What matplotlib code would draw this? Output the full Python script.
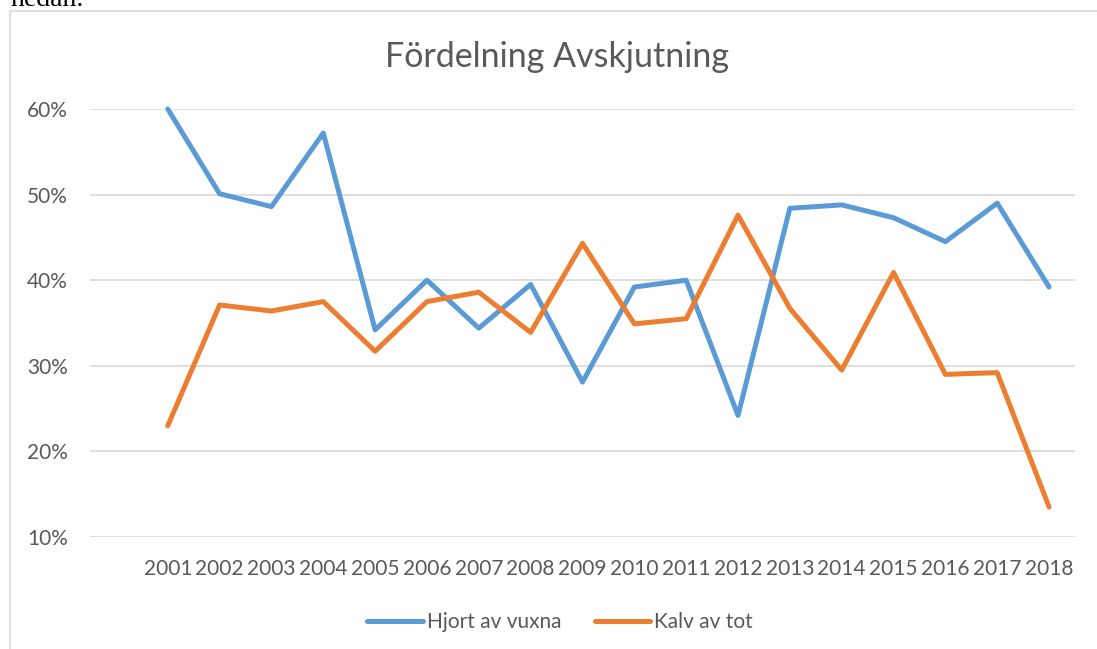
import matplotlib.pyplot as plt
from matplotlib.patches import Rectangle
from matplotlib.ticker import FuncFormatter

# data (share in %)
years = ["2001", "2002", "2003", "2004", "2005", "2006", "2007", "2008", "2009",
         "2010", "2011", "2012", "2013", "2014", "2015", "2016", "2017", "2018"]
hjort_av_vuxna = [60.0, 50.1, 48.6, 57.2, 34.2, 40.0, 34.4, 39.5, 28.1,
                  39.2, 40.0, 24.2, 48.4, 48.8, 47.3, 44.5, 49.0, 39.2]
kalv_av_tot = [23.0, 37.1, 36.4, 37.5, 31.7, 37.5, 38.6, 33.9, 44.3,
               34.9, 35.5, 47.6, 36.7, 29.5, 40.9, 29.0, 29.2, 13.5]
y_ticks = [10, 20, 30, 40, 50, 60]

GREY_TEXT = "#595959"
GRID = "#d9d9d9"
FONT = "Lato"

W, H = 1097, 649
fig = plt.figure(figsize=(W / 100, H / 100), dpi=100)

# chart frame and the cut-off document text above it
fig.patches.append(Rectangle((9.5 / W, -0.1), 1.2, 1 - 10.5 / H + 0.1,
                             transform=fig.transFigure, fill=False,
                             edgecolor=GRID, linewidth=1.2))
fig.text(10 / W, 1 - 6 / H, "nedan.", family="Liberation Serif", fontsize=20,
         color="black", va="baseline", ha="left")

ax = fig.add_axes([90 / W, 112 / H, 985 / W, 428 / H])
x = list(range(1, len(years) + 1))  # first category slot is empty

ax.plot(x, hjort_av_vuxna, color="#5B9BD5", lw=3.6, solid_joinstyle="round",
        solid_capstyle="round", label="Hjort av vuxna", clip_on=False, zorder=3)
ax.plot(x, kalv_av_tot, color="#ED7D31", lw=3.6, solid_joinstyle="round",
        solid_capstyle="round", label="Kalv av tot", clip_on=False, zorder=3)

ax.set_xlim(-0.5, len(years) + 0.5)
ax.set_ylim(10, 60)
ax.set_yticks(y_ticks)
ax.yaxis.set_major_formatter(FuncFormatter(lambda v, p: "{:.0f}%".format(v)))
ax.set_xticks(x)
ax.set_xticklabels(years)
ax.grid(axis="y", color=GRID, linewidth=1.2)
ax.set_axisbelow(True)
for s in ax.spines.values():
    s.set_visible(False)
ax.tick_params(axis="both", length=0, labelsize=15, labelcolor=GREY_TEXT)
ax.tick_params(axis="y", pad=16)
ax.tick_params(axis="x", pad=15.5)
for lab in ax.get_xticklabels() + ax.get_yticklabels():
    lab.set_family(FONT)

fig.text(557 / W, 1 - 57 / H, "Fördelning Avskjutning", family=FONT,
         fontsize=24.5, color=GREY_TEXT, ha="center", va="center")

leg = fig.legend(loc="center", bbox_to_anchor=(560 / W, 1 - 622 / H), ncol=2,
                 frameon=False, handlelength=2.65, handletextpad=0.2,
                 columnspacing=1.6, prop={"family": FONT, "size": 15})
for t in leg.get_texts():
    t.set_color(GREY_TEXT)

fig.savefig("out.png", dpi=100)
